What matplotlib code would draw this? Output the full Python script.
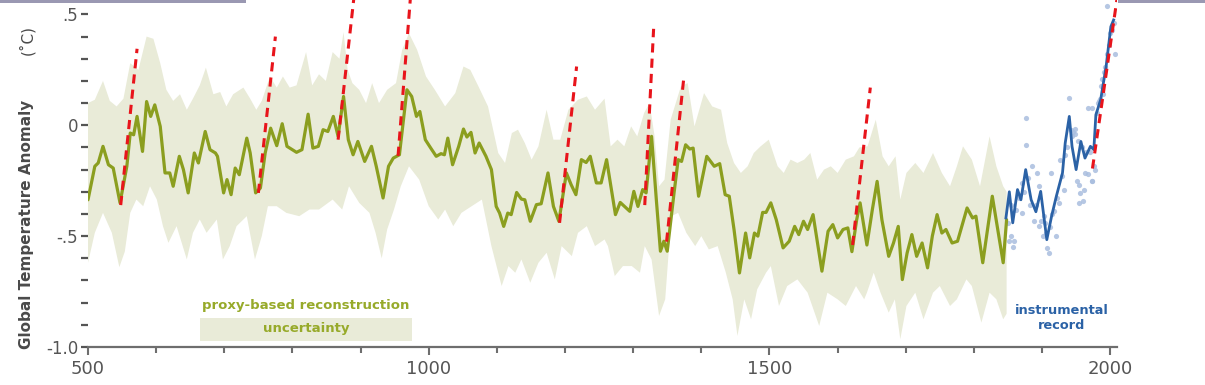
import numpy as np
import matplotlib
matplotlib.use("Agg")
import matplotlib.pyplot as plt
from matplotlib.patches import Rectangle
from matplotlib.ticker import MultipleLocator, FixedLocator

# ---------------- data ----------------
proxy_years = [500, 510, 515, 522, 530, 537, 547, 557, 562, 567, 572, 580, 586, 592, 598, 606, 613, 620, 625, 634,
               640, 647, 656, 662, 672, 679, 687, 690, 699, 704, 710, 716, 722, 733, 738, 746, 753, 760, 768, 777,
               785, 792, 806, 814, 823, 830, 838, 845, 852, 860, 867, 875, 882, 889, 896, 906, 916, 923, 933, 941,
               948, 957, 968, 975, 982, 987, 995, 1003, 1011, 1018, 1023, 1028, 1035, 1044, 1051, 1056, 1062, 1068,
               1074, 1084, 1092, 1099, 1104, 1110, 1116, 1121, 1129, 1136, 1141, 1149, 1158, 1165, 1175, 1183, 1191,
               1202, 1209, 1216, 1224, 1231, 1237, 1246, 1253, 1261, 1268, 1274, 1281, 1288, 1295, 1301, 1307, 1314,
               1319, 1327, 1334, 1340, 1345, 1350, 1360, 1366, 1371, 1377, 1383, 1388, 1396, 1408, 1419, 1427, 1435,
               1441, 1448, 1456, 1465, 1471, 1478, 1483, 1490, 1495, 1502, 1510, 1520, 1529, 1537, 1543, 1550, 1556,
               1564, 1577, 1586, 1593, 1600, 1608, 1615, 1621, 1628, 1633, 1643, 1651, 1658, 1665, 1675, 1682, 1689,
               1695, 1702, 1709, 1716, 1724, 1732, 1739, 1746, 1753, 1759, 1768, 1776, 1790, 1798, 1803, 1813, 1820,
               1827, 1835, 1843, 1848]
proxy_temps = [-0.336, -0.185, -0.17, -0.095, -0.178, -0.193, -0.35, -0.185, -0.035, -0.043, 0.04, -0.118, 0.107,
               0.04, 0.092, -0.005, -0.215, -0.215, -0.275, -0.14, -0.2, -0.305, -0.125, -0.17, -0.028, -0.11,
               -0.125, -0.14, -0.305, -0.245, -0.313, -0.193, -0.223, -0.058, -0.125, -0.305, -0.283, -0.125,
               -0.013, -0.092, 0.007, -0.095, -0.122, -0.11, 0.05, -0.103, -0.095, -0.02, -0.028, 0.04, -0.05,
               0.13, -0.065, -0.133, -0.073, -0.163, -0.095, -0.185, -0.328, -0.185, -0.148, -0.133, 0.16, 0.13,
               0.04, 0.062, -0.065, -0.103, -0.14, -0.128, -0.133, -0.058, -0.178, -0.095, -0.017, -0.053, -0.032,
               -0.125, -0.08, -0.14, -0.2, -0.366, -0.396, -0.456, -0.396, -0.403, -0.303, -0.333, -0.336, -0.433,
               -0.358, -0.354, -0.215, -0.366, -0.433, -0.215, -0.268, -0.313, -0.155, -0.168, -0.14, -0.26, -0.26,
               -0.155, -0.29, -0.403, -0.348, -0.368, -0.388, -0.298, -0.366, -0.29, -0.305, -0.05, -0.336, -0.568,
               -0.523, -0.568, -0.305, -0.155, -0.163, -0.088, -0.107, -0.103, -0.32, -0.14, -0.185, -0.173, -0.313,
               -0.32, -0.47, -0.666, -0.486, -0.598, -0.486, -0.5, -0.393, -0.393, -0.35, -0.426, -0.553, -0.523,
               -0.456, -0.493, -0.433, -0.47, -0.403, -0.658, -0.478, -0.448, -0.508, -0.47, -0.463, -0.57, -0.426,
               -0.35, -0.54, -0.38, -0.253, -0.426, -0.591, -0.531, -0.456, -0.696, -0.576, -0.493, -0.591, -0.531,
               -0.643, -0.5, -0.403, -0.486, -0.47, -0.531, -0.523, -0.373, -0.418, -0.41, -0.62, -0.47, -0.32,
               -0.47, -0.62, -0.426]

upper_years = [500, 510, 522, 532, 542, 552, 562, 574, 586, 596, 606, 615, 625, 635, 645, 654, 664, 673, 684, 694,
               703, 713, 728, 738, 747, 755, 767, 777, 786, 796, 806, 820, 829, 839, 849, 859, 869, 875, 881, 888,
               898, 908, 917, 927, 939, 952, 961, 971, 983, 996, 1009, 1024, 1039, 1051, 1061, 1073, 1087, 1102,
               1112, 1122, 1131, 1141, 1151, 1161, 1173, 1183, 1193, 1205, 1219, 1232, 1244, 1258, 1267, 1277, 1287,
               1297, 1306, 1316, 1324, 1331, 1338, 1346, 1355, 1370, 1380, 1390, 1404, 1416, 1429, 1438, 1448, 1458,
               1468, 1477, 1487, 1499, 1512, 1521, 1531, 1541, 1551, 1560, 1570, 1580, 1590, 1600, 1612, 1624, 1632,
               1644, 1656, 1666, 1675, 1685, 1692, 1701, 1714, 1726, 1740, 1753, 1765, 1775, 1784, 1797, 1809, 1823,
               1833, 1843, 1848]
upper_temps = [0.1, 0.115, 0.2, 0.11, 0.085, 0.12, 0.28, 0.25, 0.4, 0.39, 0.28, 0.16, 0.11, 0.14, 0.07, 0.12, 0.18,
               0.26, 0.14, 0.15, 0.085, 0.14, 0.17, 0.12, 0.07, 0.11, 0.22, 0.17, 0.22, 0.17, 0.18, 0.33, 0.18, 0.23,
               0.2, 0.33, 0.3, 0.42, 0.25, 0.19, 0.16, 0.1, 0.19, 0.1, 0.16, 0.19, 0.34, 0.415, 0.34, 0.22, 0.16,
               0.085, 0.145, 0.265, 0.25, 0.175, 0.085, -0.125, -0.17, -0.035, -0.02, -0.08, -0.155, -0.095, 0.07,
               -0.065, -0.065, 0.07, 0.115, 0.13, 0.07, 0.12, -0.095, -0.065, -0.095, -0.005, -0.05, 0.055, 0.1,
               -0.04, -0.275, -0.245, 0.025, 0.175, 0.19, -0.005, 0.145, 0.085, 0.07, -0.08, -0.17, -0.215, -0.185,
               -0.125, -0.095, -0.065, -0.185, -0.215, -0.155, -0.17, -0.155, -0.125, -0.245, -0.2, -0.185, -0.215,
               -0.155, -0.14, -0.1, -0.095, 0.025, -0.14, -0.185, -0.14, -0.335, -0.215, -0.17, -0.215, -0.125,
               -0.215, -0.275, -0.185, -0.095, -0.155, -0.275, -0.05, -0.185, -0.275, -0.3]

lower_years = [500, 510, 522, 535, 546, 554, 562, 571, 581, 591, 601, 610, 618, 630, 645, 654, 664, 674, 689, 698,
               708, 718, 733, 745, 755, 764, 777, 791, 810, 825, 839, 859, 873, 883, 898, 913, 922, 931, 939, 949,
               959, 971, 986, 1000, 1014, 1024, 1036, 1048, 1063, 1078, 1092, 1107, 1117, 1127, 1136, 1149, 1161,
               1173, 1185, 1195, 1210, 1219, 1232, 1244, 1258, 1263, 1273, 1285, 1298, 1310, 1317, 1327, 1338, 1347,
               1356, 1366, 1378, 1391, 1400, 1411, 1424, 1436, 1446, 1453, 1463, 1473, 1482, 1495, 1502, 1514, 1526,
               1541, 1556, 1573, 1585, 1600, 1612, 1627, 1639, 1643, 1653, 1663, 1675, 1684, 1692, 1701, 1714, 1726,
               1740, 1750, 1765, 1775, 1789, 1797, 1811, 1823, 1833, 1843, 1848]
lower_temps = [-0.62, -0.485, -0.395, -0.485, -0.64, -0.57, -0.395, -0.335, -0.365, -0.275, -0.335, -0.455, -0.53,
               -0.455, -0.605, -0.485, -0.425, -0.485, -0.425, -0.605, -0.545, -0.455, -0.41, -0.605, -0.5, -0.365,
               -0.365, -0.395, -0.41, -0.38, -0.38, -0.335, -0.38, -0.275, -0.35, -0.395, -0.485, -0.6, -0.47,
               -0.38, -0.275, -0.185, -0.245, -0.365, -0.425, -0.38, -0.455, -0.395, -0.365, -0.335, -0.545, -0.725,
               -0.635, -0.665, -0.605, -0.71, -0.62, -0.575, -0.695, -0.545, -0.59, -0.485, -0.455, -0.545, -0.515,
               -0.545, -0.68, -0.635, -0.635, -0.665, -0.545, -0.605, -0.86, -0.785, -0.41, -0.395, -0.485, -0.545,
               -0.5, -0.56, -0.545, -0.665, -0.785, -0.95, -0.785, -0.875, -0.74, -0.665, -0.635, -0.815, -0.725,
               -0.695, -0.755, -0.905, -0.755, -0.785, -0.815, -0.725, -0.785, -0.755, -0.665, -0.755, -0.845,
               -0.785, -0.965, -0.815, -0.755, -0.875, -0.755, -0.725, -0.815, -0.785, -0.695, -0.725, -0.89,
               -0.755, -0.785, -0.875, -0.85]

instr_years = [1847, 1852, 1857, 1864, 1869, 1876, 1884, 1891, 1898, 1907, 1914, 1921, 1930, 1934, 1940, 1944,
               1950, 1957, 1963, 1971, 1976, 1979, 1986, 1994, 2001, 2005]
instr_temps = [-0.418, -0.3, -0.44, -0.29, -0.336, -0.2, -0.336, -0.39, -0.298, -0.516, -0.41, -0.32, -0.215,
               -0.08, 0.04, -0.095, -0.2, -0.073, -0.148, -0.095, -0.11, 0.047, 0.115, 0.265, 0.445, 0.475]

annual_years = [1850, 1852, 1854, 1855, 1857, 1859, 1862, 1866, 1870, 1871, 1873, 1876, 1876, 1879, 1883, 1886,
                1888, 1891, 1893, 1896, 1896, 1899, 1901, 1903, 1904, 1906, 1908, 1910, 1912, 1913, 1915, 1918,
                1920, 1922, 1925, 1927, 1930, 1932, 1934, 1937, 1939, 1942, 1944, 1946, 1948, 1949, 1951, 1953,
                1954, 1954, 1956, 1958, 1960, 1961, 1963, 1965, 1968, 1968, 1970, 1973, 1973, 1974, 1976, 1978,
                1980, 1982, 1983, 1985, 1986, 1988, 1990, 1991, 1993, 1996, 1996, 1998, 2000, 2002, 2005, 2007]
annual_temps = [-0.44, -0.52, -0.5, -0.36, -0.55, -0.52, -0.38, -0.33, -0.26, -0.396, -0.3, 0.032, -0.088, -0.24,
                -0.36, -0.185, -0.43, -0.36, -0.215, -0.275, -0.455, -0.43, -0.5, -0.41, -0.44, -0.485, -0.553,
                -0.575, -0.46, -0.215, -0.4, -0.386, -0.5, -0.33, -0.35, -0.155, -0.23, -0.29, -0.133, -0.1, 0.122,
                -0.02, -0.05, -0.03, -0.04, -0.015, -0.25, -0.07, -0.268, -0.35, -0.305, -0.1, -0.34, -0.29, -0.215,
                -0.12, -0.22, 0.078, -0.12, 0.078, -0.253, -0.25, -0.185, -0.2, 0.055, 0.1, 0.11, 0.12, 0.175, 0.21,
                0.14, 0.24, 0.265, 0.32, 0.54, 0.36, 0.415, 0.43, 0.46, 0.32]

# red dashed trend segments: (start year, start temp, end year, end temp)
trend_x0 = [548, 750, 867, 955, 1192, 1317, 1349, 1622, 1974]
trend_y0 = [-0.36, -0.305, -0.065, -0.138, -0.44, -0.36, -0.525, -0.54, -0.195]
trend_x1 = [572, 775, 890, 973, 1217, 1330, 1374, 1648, 2010]
trend_y1 = [0.345, 0.4, 0.57, 0.57, 0.265, 0.435, 0.205, 0.17, 0.57]

ytick_vals = [-1.0, -0.5, 0.0, 0.5]
ytick_labels = ["-1.0", "-.5", "0", ".5"]
xtick_vals = [500, 1000, 1500, 2000]
xtick_labels = ["500", "1000", "1500", "2000"]

# ---------------- styles ----------------
BAND = "#e9ebd8"
GREEN = "#8b9e1f"
GREEN_TXT = "#97aa2a"
BLUE = "#2b62a6"
DOT = "#a9bedf"
RED = "#e8141b"
AXC = "#6e6e6e"
TXT = "#555555"

W, H = 1205, 385
fig = plt.figure(figsize=(W / 100, H / 100), dpi=100)
fig.patch.set_facecolor("white")
ax = fig.add_axes([88 / W, 38 / H, (1117 - 88) / W, 347 / H])
ax.set_facecolor("white")

# uncertainty band
band_x = np.concatenate([upper_years, lower_years[::-1]])
band_y = np.concatenate([upper_temps, lower_temps[::-1]])
ax.fill(band_x, band_y, color=BAND, lw=0, zorder=1)

# proxy line
ax.plot(proxy_years, proxy_temps, color=GREEN, lw=2.3, solid_joinstyle="round", solid_capstyle="round", zorder=3)

# instrumental dots & line
ax.scatter(annual_years, annual_temps, s=14, color=DOT, alpha=0.85, lw=0, zorder=2)
ax.plot(instr_years, instr_temps, color=BLUE, lw=2.0, solid_joinstyle="round", zorder=3)

# red dashed segments
for x0, y0, x1, y1 in zip(trend_x0, trend_y0, trend_x1, trend_y1):
    ax.plot([x0, x1], [y0, y1], color=RED, lw=2.2, dashes=(3.0, 2.0), zorder=4, clip_on=True)

ax.set_xlim(500, 2010)
ax.set_ylim(-1.0, 0.565)

for s in ["top", "right", "left"]:
    ax.spines[s].set_visible(False)
ax.spines["bottom"].set_color(AXC)
ax.spines["bottom"].set_linewidth(1.6)

ax.xaxis.set_major_locator(FixedLocator(xtick_vals))
ax.set_xticklabels(xtick_labels)
ax.xaxis.set_minor_locator(MultipleLocator(100))
ax.yaxis.set_major_locator(FixedLocator(ytick_vals))
ax.set_yticklabels(ytick_labels)
ax.yaxis.set_minor_locator(MultipleLocator(0.1))

ax.tick_params(axis="x", which="major", direction="out", length=6, width=1.5, color=AXC,
               labelsize=13, labelcolor=TXT, pad=3)
ax.tick_params(axis="x", which="minor", direction="out", length=4, width=1.5, color=AXC)
ax.tick_params(axis="y", which="both", direction="out", length=5, width=1.6, color=TXT,
               labelsize=12, labelcolor=TXT, pad=2)

# y label (bold part + unit)
fig.text(27 / W, 1 - 224 / H, "Global Temperature Anomaly", rotation=90, ha="center", va="center",
         fontsize=11, fontweight="bold", color="#4a4a4a")
fig.text(27 / W, 1 - 40 / H, "(\u02daC)", rotation=90, ha="center", va="center",
         fontsize=11, color="#4a4a4a")

# legend-like annotations
ax.text(0.212, 0.121, "proxy-based reconstruction", transform=ax.transAxes, ha="center", va="center",
        fontsize=9.5, fontweight="bold", color=GREEN_TXT, zorder=5)
ax.add_patch(Rectangle((0.109, 0.017), 0.206, 0.067, transform=ax.transAxes, facecolor=BAND, lw=0, zorder=2))
ax.text(0.212, 0.052, "uncertainty", transform=ax.transAxes, ha="center", va="center",
        fontsize=9.5, fontweight="bold", color=GREEN_TXT, zorder=5)
ax.text(0.9466, 0.084, "instrumental\nrecord", transform=ax.transAxes, ha="center", va="center",
        fontsize=9.3, fontweight="bold", color=BLUE, linespacing=1.15, zorder=5)

# thin grey bars at the top edge of the picture
fig.patches.append(Rectangle((0, 1 - 3 / H), 246 / W, 3 / H, transform=fig.transFigure,
                             facecolor="#9a98b2", lw=0, zorder=10))
fig.patches.append(Rectangle((1118 / W, 1 - 3 / H), (W - 1118) / W, 3 / H, transform=fig.transFigure,
                             facecolor="#9a98b2", lw=0, zorder=10))

fig.savefig("out.png", dpi=100)
